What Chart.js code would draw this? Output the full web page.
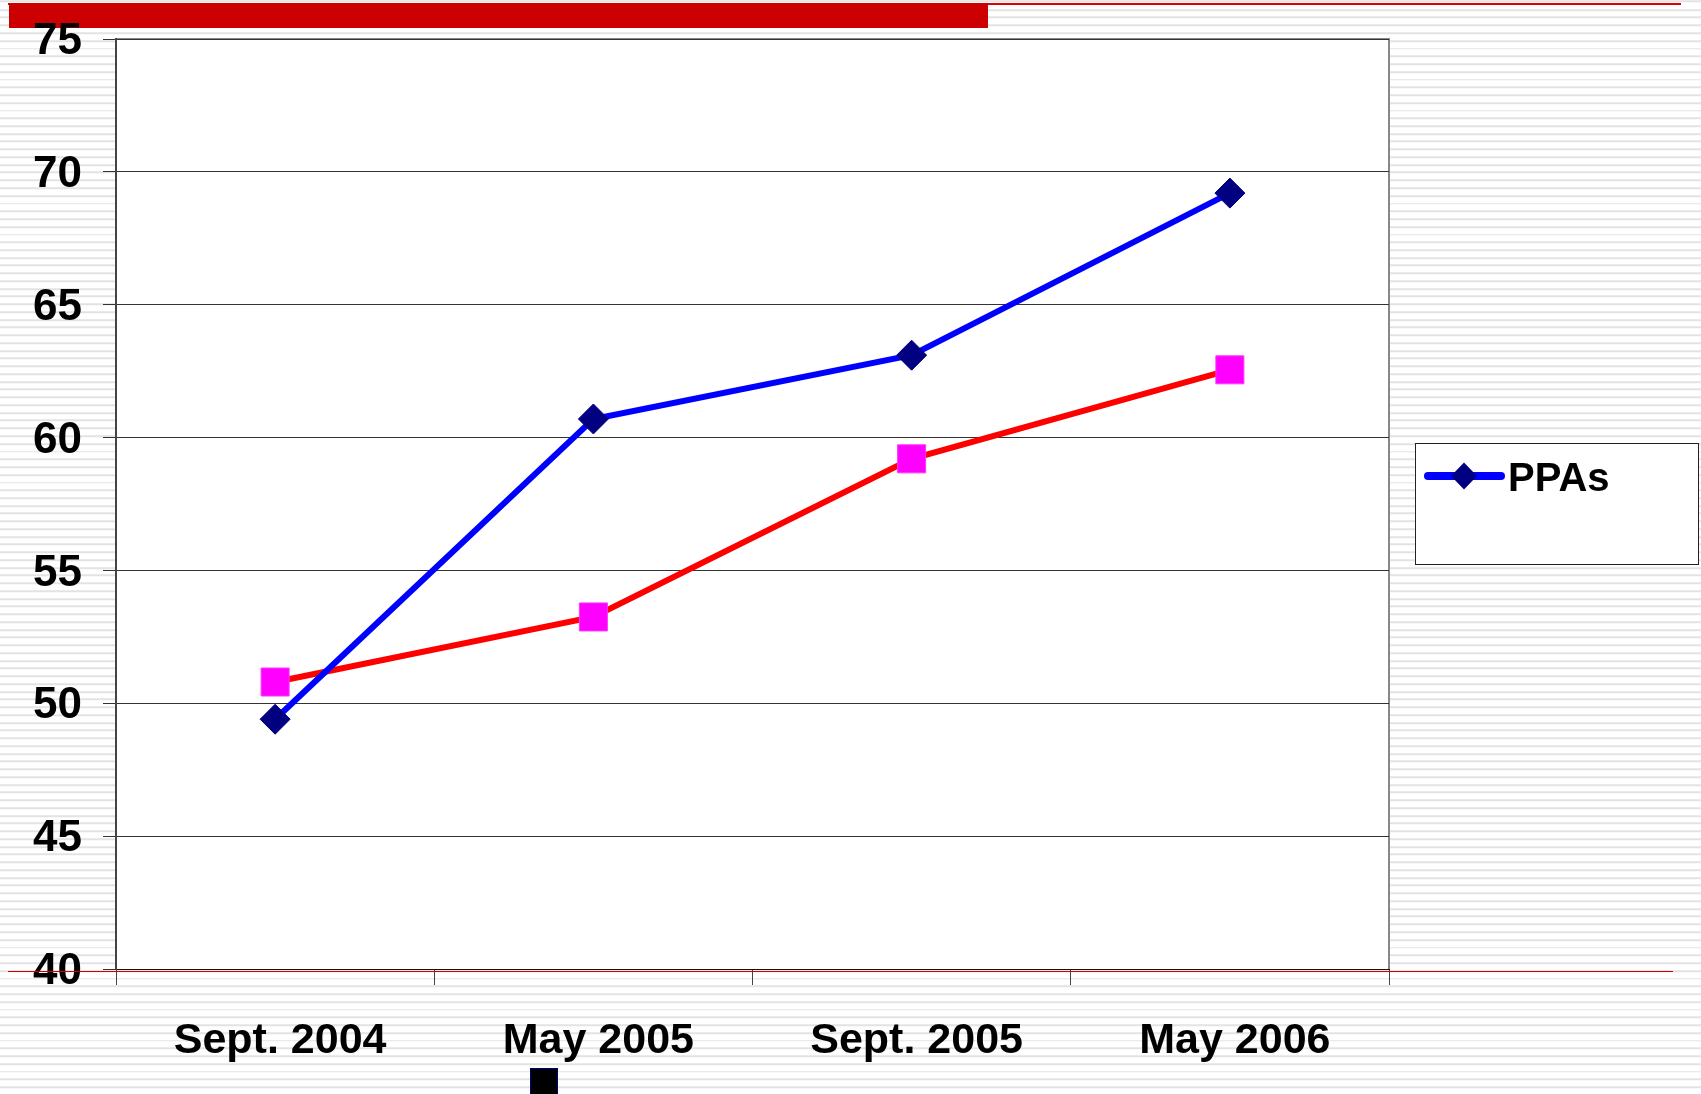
<!DOCTYPE html>
<html>
<head>
<meta charset="utf-8">
<script src="https://cdn.jsdelivr.net/npm/chart.js@4.4.1/dist/chart.umd.min.js"></script>
<style>
  html, body { margin: 0; padding: 0; overflow: hidden; background: #fff; }
  #slide {
    position: relative; width: 1701px; height: 1094px;
    background-color: #fff;
    background-image: repeating-linear-gradient(to bottom, #fff 0px, #fff 5.75px, #e3e3e3 5.75px, #e3e3e3 7.75px);
    background-position: 0 3.25px;
  }
  #topline { position: absolute; left: 8px; top: 3px; width: 1673px; height: 2px; background: #dd0000; }
  #topbar  { position: absolute; left: 9px; top: 3px; width: 979px; height: 25px; background: #cc0000; }
  #rule    { position: absolute; left: 8px; top: 971px; width: 1665px; height: 1px; background: #d00000; z-index: 2; }
  #stray   { position: absolute; left: 530px; top: 1068px; width: 26px; height: 30px; background: #000; border: 1px solid #000080; z-index: 2; }
  canvas   { position: absolute; left: 0; top: 0; z-index: 1; }
</style>
</head>
<body>
<div id="slide">
  <div id="topline"></div>
  <div id="topbar"></div>
  <canvas id="chart" width="1701" height="1094"></canvas>
  <div id="rule"></div>
  <div id="stray"></div>
</div>
<script>
// Survey dates along the x axis
const categories = ['Sept. 2004', 'May 2005', 'Sept. 2005', 'May 2006'];
// PPAs series (blue line, navy diamonds)
const ppaValues = [49.4, 60.7, 63.1, 69.2];
// Second series (red line, magenta squares)
const secondValues = [50.8, 53.25, 59.2, 62.55];
// Value axis range
const yMin = 40;
const yMax = 75;
const yStep = 5;

const FONT = '"Liberation Sans", Arial, Helvetica, sans-serif';

// White plot area with a grey frame on top and right
const plotBackground = {
  id: 'plotBackground',
  beforeDraw(chart) {
    const { ctx, chartArea: a } = chart;
    ctx.save();
    ctx.fillStyle = '#ffffff';
    ctx.fillRect(a.left, a.top, a.right - a.left, a.bottom - a.top);
    ctx.strokeStyle = '#888888';
    ctx.lineWidth = 2;
    ctx.beginPath();
    ctx.moveTo(a.left, a.top);
    ctx.lineTo(a.right, a.top);
    ctx.lineTo(a.right, a.bottom);
    ctx.stroke();
    ctx.restore();
  }
};

// Boxed legend to the right of the plot, showing the first series only
const boxedLegend = {
  id: 'boxedLegend',
  afterDraw(chart) {
    const { ctx, chartArea: a } = chart;
    const ds = chart.data.datasets[0];
    const left = a.right + 26, width = 283, height = 121;
    const top = (a.top + a.bottom) / 2 - height / 2 - 0.5;
    ctx.save();
    ctx.fillStyle = '#ffffff';
    ctx.fillRect(left, top, width, height);
    ctx.strokeStyle = '#222222';
    ctx.lineWidth = 1;
    ctx.strokeRect(left + 0.5, top + 0.5, width, height);
    const cy = top + 33;
    ctx.strokeStyle = ds.borderColor;
    ctx.lineWidth = 8;
    ctx.lineCap = 'round';
    ctx.beginPath();
    ctx.moveTo(left + 13, cy);
    ctx.lineTo(left + 86, cy);
    ctx.stroke();
    ctx.fillStyle = ds.pointBackgroundColor;
    ctx.beginPath();
    ctx.moveTo(left + 49, cy - 13.5);
    ctx.lineTo(left + 62, cy);
    ctx.lineTo(left + 49, cy + 13.5);
    ctx.lineTo(left + 36, cy);
    ctx.closePath();
    ctx.fill();
    ctx.fillStyle = '#000000';
    ctx.font = 'bold 40px ' + FONT;
    ctx.textBaseline = 'alphabetic';
    ctx.textAlign = 'left';
    ctx.fillText(ds.label, left + 93, cy + 15);
    ctx.restore();
  }
};

new Chart(document.getElementById('chart'), {
  type: 'line',
  data: {
    labels: categories,
    datasets: [
      {
        label: 'PPAs',
        data: ppaValues,
        borderColor: '#0000ff',
        borderWidth: 6,
        pointStyle: 'rectRot',
        pointRadius: 15,
        pointHoverRadius: 15,
        pointBackgroundColor: '#000080',
        pointBorderColor: '#000080',
        pointBorderWidth: 1,
        tension: 0,
        order: 1
      },
      {
        label: 'Series 2',
        data: secondValues,
        borderColor: '#ff0000',
        borderWidth: 6,
        pointStyle: 'rect',
        pointRadius: 19.8,
        pointHoverRadius: 19.8,
        pointBackgroundColor: '#ff00ff',
        pointBorderColor: '#ff33ff',
        pointBorderWidth: 1,
        tension: 0,
        order: 2
      }
    ]
  },
  options: {
    responsive: false,
    animation: false,
    events: [],
    layout: { autoPadding: false, padding: { top: 39, right: 312, bottom: 0, left: 0 } },
    plugins: {
      legend: { display: false },
      tooltip: { enabled: false }
    },
    scales: {
      x: {
        type: 'category',
        offset: true,
        afterFit(scale) {
          scale.height = 125;
          scale.paddingLeft = 0;
          scale.paddingRight = 0;
        },
        grid: {
          offset: true,
          drawOnChartArea: false,
          drawTicks: true,
          tickLength: 16,
          tickColor: '#444444',
          tickWidth: 1
        },
        border: { display: true, color: '#111111', width: 1 },
        ticks: {
          color: '#000000',
          padding: 30,
          labelOffset: 5,
          maxRotation: 0,
          autoSkip: false,
          font: { family: FONT, size: 43, weight: 'bold' }
        }
      },
      y: {
        min: yMin,
        max: yMax,
        afterFit(scale) {
          scale.width = 116;
          scale.paddingTop = 0;
          scale.paddingBottom = 0;
        },
        grid: {
          color: '#333333',
          lineWidth: 1,
          drawTicks: true,
          tickLength: 13,
          tickColor: '#333333'
        },
        border: { display: true, color: '#444444', width: 2 },
        ticks: {
          stepSize: yStep,
          color: '#000000',
          padding: 21,
          labelOffset: 3,
          font: { family: FONT, size: 44, weight: 'bold' }
        }
      }
    }
  },
  plugins: [plotBackground, boxedLegend]
});
</script>
</body>
</html>
